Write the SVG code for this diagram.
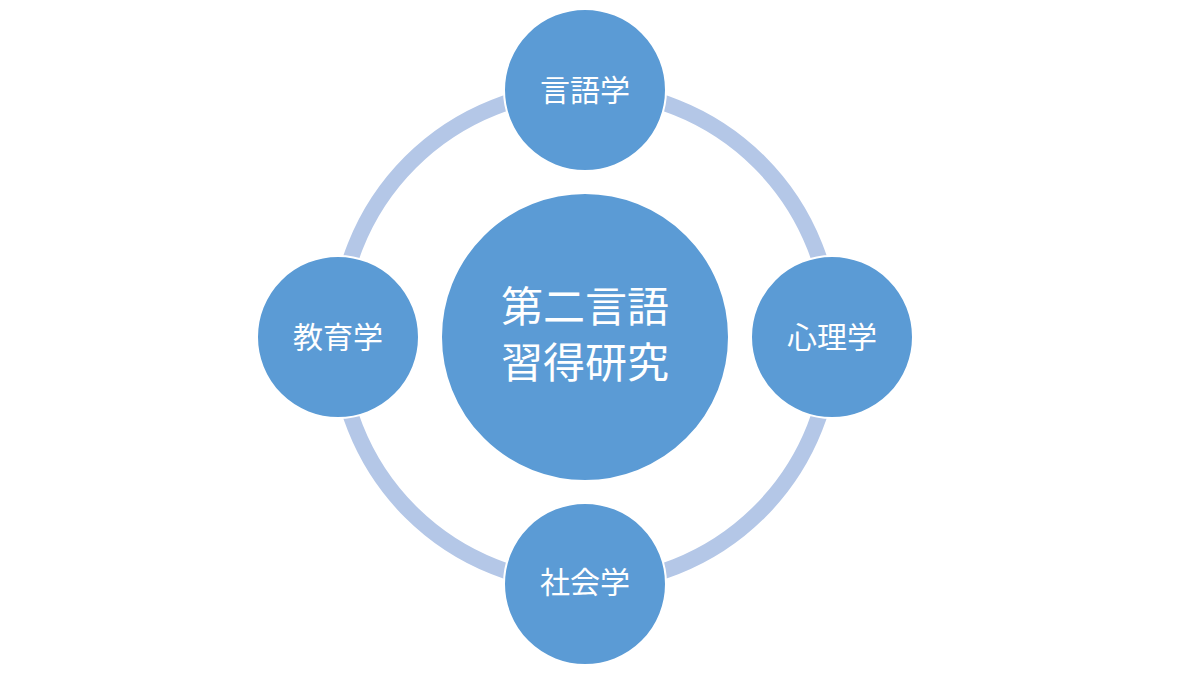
<svg xmlns="http://www.w3.org/2000/svg" width="1200" height="675" viewBox="0 0 1200 675">
<style>
.n{fill:#5b9bd5;stroke:#ffffff;stroke-width:2}
.t{fill:#ffffff;font-family:"Liberation Sans","Noto Sans CJK JP",sans-serif;text-anchor:middle;dominant-baseline:central}
.s{font-size:30px}
.b{font-size:42px}
</style>
<rect width="1200" height="675" fill="#ffffff"/>
<g id="connectors">
<circle cx="585" cy="337" r="247" fill="none" stroke="#b4c7e7" stroke-width="16"/>
</g>
<g id="center"><circle class="n" cx="585" cy="337" r="144"/>
<text class="t b" x="585" y="307">第二言語</text><text class="t b" x="585" y="363">習得研究</text></g>
<g id="top"><circle class="n" cx="585" cy="90" r="81"/><text class="t s" x="585" y="90">言語学</text></g>
<g id="left"><circle class="n" cx="338" cy="337" r="81"/><text class="t s" x="338" y="337">教育学</text></g>
<g id="right"><circle class="n" cx="832" cy="337" r="81"/><text class="t s" x="832" y="337">心理学</text></g>
<g id="bottom"><circle class="n" cx="585" cy="584" r="81"/><text class="t s" x="585" y="582">社会学</text></g>
</svg>
